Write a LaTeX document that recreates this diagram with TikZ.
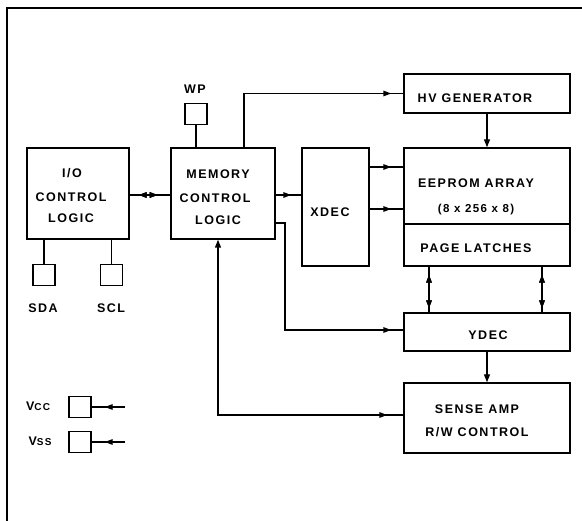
\documentclass[tikz,border=0pt]{standalone}
\usepackage{fontspec}
\setmainfont{Liberation Sans}[LetterSpace=12]
\usetikzlibrary{arrows.meta,decorations.markings}
\begin{document}
\begin{tikzpicture}[x=1pt,y=-1pt,
  line width=1.4pt,
  box/.style={draw,rectangle,inner sep=0pt},
  pin/.style={draw,rectangle,inner sep=0pt,minimum width=22pt,minimum height=21pt},
  lab/.style={font=\bfseries\fontsize{12.5}{14}\selectfont,inner sep=0pt,anchor=base},
  tip/.style={-{Triangle[length=8pt,width=6pt]}},
  mk/.style={postaction={decorate},decoration={markings,
     mark=at position #1 with {\arrow{Triangle[length=8pt,width=5.5pt]}}}},
  mkr/.style={postaction={decorate},decoration={markings,
     mark=at position #1 with {\arrowreversed{Triangle[length=8pt,width=5.5pt]}}}}
]
\useasboundingbox (0,0) rectangle (582,521);
% frame
\draw (7,521) -- (7,8) -- (582,8);

% blocks
\node[box,minimum width=102pt,minimum height=91pt] (io) at (78,193.5) {};
\node[box,minimum width=104pt,minimum height=91pt] (mem) at (223,193.5) {};
\node[box,minimum width=166pt,minimum height=39pt] (hv) at (487,93.5) {};
\node[box,minimum width=166pt,minimum height=76pt] (ee) at (487,186) {};
\node[box,minimum width=166pt,minimum height=42pt] (pl) at (487,245) {};
\node[box,minimum width=67pt,minimum height=118pt] (xdec) at (335.5,207) {};
\node[box,minimum width=166pt,minimum height=38pt] (ydec) at (487,332) {};
\node[box,minimum width=166pt,minimum height=70pt] (sa) at (487,418) {};

% pins
\node[pin] (wp) at (196,114) {};
\node[pin] (sda) at (44,275) {};
\node[pin] (scl) at (111.5,275) {};
\node[pin] (vcc) at (80,407) {};
\node[pin] (vss) at (80,442) {};
\coordinate (vccend) at (125,407);
\coordinate (vssend) at (125,442);

% labels
\node[lab] (twp) at (195,94) {WP};
\node[lab] (tio1) at (72,177.5) {I/O};
\node[lab] (tio2) at (71,201.5) {CONTROL};
\node[lab] (tio3) at (71,222.5) {LOGIC};
\node[lab] (tm1) at (218,178.5) {MEMORY};
\node[lab] (tm2) at (215,202.5) {CONTROL};
\node[lab] (tm3) at (218,224.5) {LOGIC};
\node[lab] (thv) at (475,102.5) {HV GENERATOR};
\node[lab] (tee1) at (476,187.5) {EEPROM ARRAY};
\node[lab,font=\bfseries\fontsize{11.5}{13}\selectfont] (tee2) at (476,213) {(8 x 256 x 8)};
\node[lab] (tpl) at (476,252.5) {PAGE LATCHES};
\node[lab] (txd) at (330,216.5) {XDEC};
\node[lab] (tyd) at (488,339.5) {YDEC};
\node[lab] (tsa1) at (477,413.5) {SENSE AMP};
\node[lab] (tsa2) at (477,436.5) {R/W CONTROL};
\node[lab] (tsda) at (43,312.5) {SDA};
\node[lab] (tscl) at (111,312.5) {SCL};
\node[lab] (tvcc) at (38,410.5) {V\fontsize{10}{12}\selectfont CC};
\node[lab] (tvss) at (40,445.5) {V\fontsize{10}{12}\selectfont SS};

% connectors
\draw (wp.south) -- (wp.south |- mem.north);
\draw (sda.north) -- (sda.north |- io.south);
\draw (scl.north) -- (scl.north |- io.south);
\draw[mkr=9pt,mk=28pt] (io.east |- 0,195) -- (mem.west |- 0,195);
\draw[mk=-12pt] (mem.north -| 244,0) |- (hv.west);
\draw[tip] (hv.south) -- (ee.north);
\draw[mk=-10pt] (mem.east |- 0,195) -- (xdec.west |- 0,195);
\draw[mk=-12pt] (xdec.east |- 0,167) -- (ee.west |- 0,167);
\draw[mk=-12pt] (xdec.east |- 0,209) -- (ee.west |- 0,209);
\draw[mk=-12pt] (mem.east |- 0,223) -- (285,223) |- (ydec.west |- 0,330);
\draw[mkr=8pt,mk=-4pt] (pl.south -| 429,0) -- (ydec.north -| 429,0);
\draw[mkr=8pt,mk=-4pt] (pl.south -| 542,0) -- (ydec.north -| 542,0);
\draw[tip] (ydec.south) -- (sa.north);
\draw[mkr=16pt,tip] (sa.west |- 0,415) -| (mem.south -| 218,0);
\draw[mkr=13pt] (vcc.east) -- (vccend);
\draw[mkr=13pt] (vss.east) -- (vssend);
\end{tikzpicture}
\end{document}
